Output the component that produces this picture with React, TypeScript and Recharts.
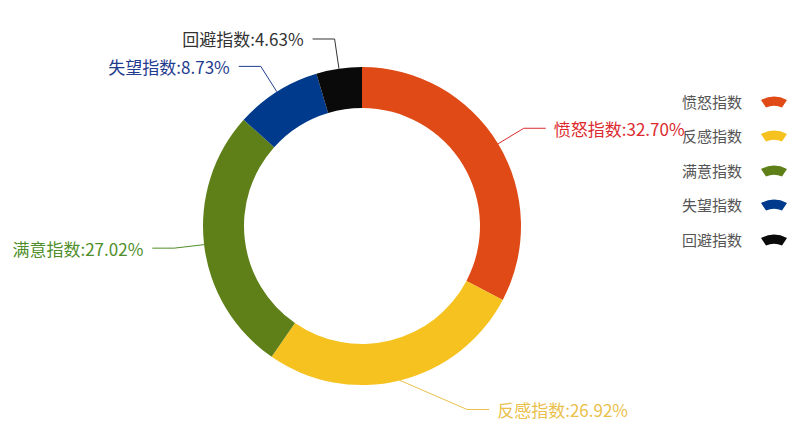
import React from 'react';
import { PieChart, Pie, Cell, Legend } from 'recharts';

const names = ['愤怒指数', '反感指数', '满意指数', '失望指数', '回避指数'];
const shares = [32.7, 26.92, 27.02, 8.73, 4.63];
const sliceColors = ['#E04A16', '#F5C21F', '#5F8019', '#003A8C', '#0A0A0A'];
const labelColors = ['#DC2A2E', '#EAC04A', '#4F8E2A', '#1F3C8E', '#333333'];

const data = names.map((name, i) => ({ name, value: shares[i] }));

const RADIAN = Math.PI / 180;
const FONT = '"Noto Sans CJK SC", "Noto Sans", sans-serif';

// label layout tweak: the bottom label is pushed sideways like in the original
const labelNudgeX: Record<string, number> = { 反感指数: 60 };

const renderLabel = (props: any) => {
  const { cx, cy, midAngle, outerRadius, index, name, value } = props;
  const cos = Math.cos(-midAngle * RADIAN);
  const sin = Math.sin(-midAngle * RADIAN);
  const x0 = cx + outerRadius * cos;
  const y0 = cy + outerRadius * sin;
  const nudge = labelNudgeX[name] || 0;
  const x1 = cx + (outerRadius + 30) * cos + nudge;
  const y1 = cy + (outerRadius + 30) * sin;
  const right = cos >= 0;
  const x2 = x1 + (right ? 22 : -22);
  const tx = x2 + (right ? 8 : -9);
  const color = labelColors[index % labelColors.length];
  return (
    <g key={`label-${index}`}>
      <polyline points={`${x0},${y0} ${x1},${y1} ${x2},${y1}`} fill="none" stroke={color} strokeWidth={1} />
      <text
        x={tx}
        y={y1}
        fill={color}
        textAnchor={right ? 'start' : 'end'}
        dominantBaseline="central"
        fontSize={17}
        fontFamily={FONT}
      >
        {`${name}:${Number(value).toFixed(2)}%`}
      </text>
    </g>
  );
};

const FanIcon = ({ color }: { color: string }) => (
  <svg width={28} height={13} viewBox="0 0 28 13" style={{ display: 'block' }}>
    <path
      d="M1,5 A28,28 0 0 1 27,5 L22,12.5 A20,20 0 0 0 6,12.5 Z"
      fill={color}
    />
  </svg>
);

const renderLegend = () => (
  <div style={{ fontFamily: FONT, fontSize: 15, color: '#555' }}>
    {names.map((name, i) => (
      <div
        key={name}
        style={{ display: 'flex', alignItems: 'center', justifyContent: 'flex-end', height: 34.5 }}
      >
        <span style={{ marginRight: 18 }}>{name}</span>
        <FanIcon color={sliceColors[i]} />
      </div>
    ))}
  </div>
);

export default function App() {
  return (
    <div style={{ position: 'absolute', left: 0, top: 0, width: 800, height: 434, background: '#fff' }}>
      <PieChart width={800} height={434} margin={{ top: 0, right: 0, bottom: 0, left: 0 }}>
        <Pie
          data={data}
          dataKey="value"
          nameKey="name"
          cx={362}
          cy={226}
          innerRadius={118}
          outerRadius={159}
          startAngle={90}
          endAngle={-270}
          stroke="none"
          labelLine={false}
          label={renderLabel}
          isAnimationActive={false}
        >
          {data.map((entry, index) => (
            <Cell key={`cell-${index}`} fill={sliceColors[index % sliceColors.length]} />
          ))}
        </Pie>
        <Legend
          layout="vertical"
          align="right"
          verticalAlign="top"
          content={renderLegend}
          wrapperStyle={{ top: 84, right: 12, left: 'auto', width: 160 }}
        />
      </PieChart>
    </div>
  );
}
